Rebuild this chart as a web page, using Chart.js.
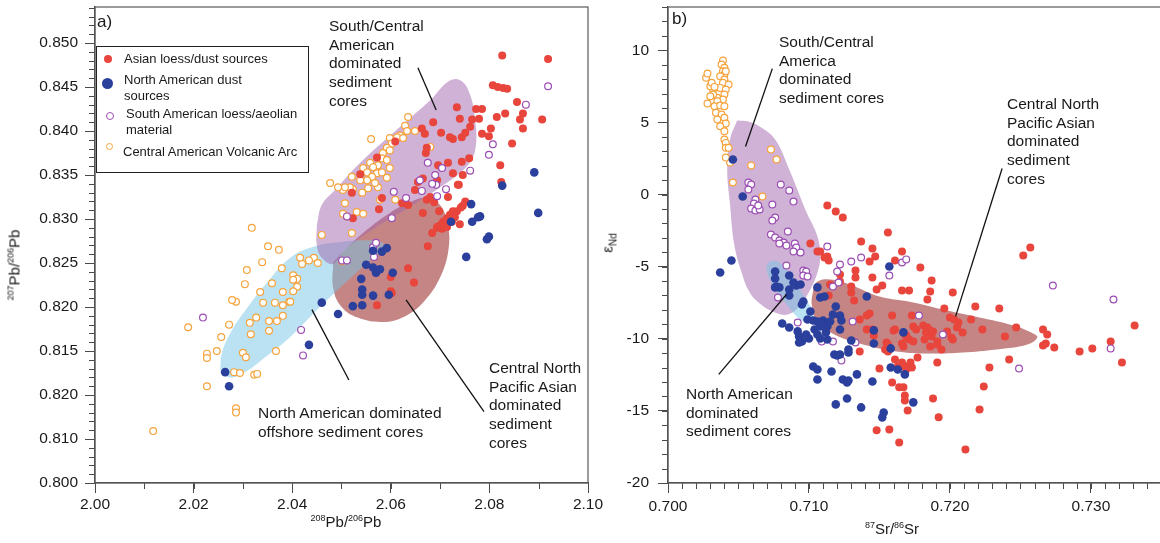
<!DOCTYPE html>
<html>
<head>
<meta charset="utf-8">
<script src="https://cdn.jsdelivr.net/npm/chart.js@4.4.1/dist/chart.umd.min.js"></script>
<style>
  html, body { margin: 0; padding: 0; background: #fff; overflow: hidden; }
  #wrap { position: relative; width: 1160px; height: 543px; overflow: hidden;
          font-family: 'Liberation Sans', Arial, sans-serif; color: #1a1a1a; }
  canvas { position: absolute; top: 0; }
  .note { position: absolute; font-size: 15.5px; line-height: 18.7px; white-space: nowrap; }
  .panel { position: absolute; font-size: 17px; }
  .axtitle { position: absolute; font-size: 15px; white-space: nowrap; transform: translate(-50%, -50%); }
  .axtitle.rot { transform: translate(-50%, -50%) rotate(-90deg); }
  .axtitle sup { font-size: 9px; vertical-align: 6px; line-height: 0; }
  .axtitle sub { font-size: 10px; vertical-align: -4px; line-height: 0; }
  #legend { position: absolute; left: 96px; top: 46px; width: 211px; height: 125px;
            border: 1.5px solid #222; background: #fff; font-size: 13px; }
  .lg { position: absolute; line-height: 16px; white-space: nowrap; }
  .sym { position: absolute; border-radius: 50%; box-sizing: border-box; }
</style>
</head>
<body>
<div id="wrap">
  <canvas id="srChart" width="620" height="543" style="left:600px"></canvas>
  <canvas id="pbChart" width="620" height="543" style="left:0px"></canvas>

  <div class="panel" style="left:97px;top:12px">a)</div>
  <div class="panel" style="left:672px;top:9px">b)</div>

  <div class="axtitle rot" style="left:14px;top:265px"><sup>207</sup>Pb/<sup>206</sup>Pb</div>
  <div class="axtitle" style="left:346px;top:521px"><sup>208</sup>Pb/<sup>206</sup>Pb</div>
  <div class="axtitle rot" style="left:607px;top:243px">ε<sub>Nd</sub></div>
  <div class="axtitle" style="left:892px;top:528px"><sup>87</sup>Sr/<sup>86</sup>Sr</div>

  <div class="note" style="left:329px;top:17px">South/Central<br>American<br>dominated<br>sediment<br>cores</div>
  <div class="note" style="left:258px;top:404px">North American dominated<br>offshore sediment cores</div>
  <div class="note" style="left:489px;top:359px">Central North<br>Pacific Asian<br>dominated<br>sediment<br>cores</div>
  <div class="note" style="left:779px;top:33px">South/Central<br>America<br>dominated<br>sediment cores</div>
  <div class="note" style="left:1007px;top:95px">Central North<br>Pacific Asian<br>dominated<br>sediment<br>cores</div>
  <div class="note" style="left:686px;top:385px">North American<br>dominated<br>sediment cores</div>

  <div id="legend">
    <div class="sym" style="left:7px;top:8px;width:8px;height:8px;background:#e8453c"></div>
    <div class="lg" style="left:27px;top:4px">Asian loess/dust sources</div>
    <div class="sym" style="left:5px;top:31px;width:11px;height:11px;background:#2b3f9c"></div>
    <div class="lg" style="left:27px;top:25px">North American dust<br>sources</div>
    <div class="sym" style="left:9px;top:65px;width:8px;height:8px;border:1.2px solid #9a4db3"></div>
    <div class="lg" style="left:29px;top:59px">South American loess/aeolian<br>material</div>
    <div class="sym" style="left:9px;top:96px;width:7px;height:7px;border:1.2px solid #f6a33c"></div>
    <div class="lg" style="left:26px;top:97px">Central American Volcanic Arc</div>
  </div>
</div>

<script>
// ---- panel a) 208Pb/206Pb vs 207Pb/206Pb ----
const pbAsian = [
  [2.0826,0.8486],[2.0919,0.8482],[2.0807,0.8452],[2.0817,0.8450],[2.0828,0.8449],[2.0836,0.8448],
  [2.0856,0.8433],[2.0907,0.8413],[2.0868,0.8403],[2.0862,0.8413],[2.0868,0.8420],[2.0773,0.8425],
  [2.0785,0.8425],[2.0779,0.8414],[2.0815,0.8416],[2.0832,0.8420],[2.0734,0.8427],[2.0740,0.8414],
  [2.0686,0.8410],[2.0663,0.8403],[2.0669,0.8397],[2.0702,0.8398],[2.0720,0.8393],[2.0726,0.8391],
  [2.0744,0.8393],[2.0751,0.8398],[2.0761,0.8405],[2.0765,0.8413],[2.0785,0.8397],[2.0799,0.8394],
  [2.0803,0.8403],[2.0846,0.8386],[2.0822,0.8361],[2.0824,0.8342],[2.0744,0.8365],[2.0759,0.8369],
  [2.0716,0.8364],[2.0696,0.8361],[2.0673,0.8381],[2.0671,0.8375],[2.0726,0.8352],[2.0746,0.8350],
  [2.0738,0.8339],[2.0694,0.8344],[2.0665,0.8346],[2.0655,0.8342],[2.0609,0.8388],[2.0572,0.8370],
  [2.0538,0.8351],[2.0521,0.8330],[2.0582,0.8324],[2.0576,0.8311],[2.0523,0.8301],[2.0623,0.8318],
  [2.0635,0.8316],[2.0649,0.8333],[2.0673,0.8322],[2.0680,0.8325],[2.0688,0.8319],[2.0716,0.8325],
  [2.0736,0.8339],[2.0751,0.8320],[2.0746,0.8315],[2.0742,0.8313],[2.0734,0.8309],[2.0698,0.8309],
  [2.0665,0.8307],[2.0726,0.8309],[2.0720,0.8305],[2.0714,0.8301],[2.0706,0.8297],[2.0700,0.8293],
  [2.0694,0.8290],[2.0704,0.8289],[2.0714,0.8291],[2.0724,0.8297],[2.0730,0.8302],[2.0740,0.8294],
  [2.0684,0.8284],[2.0694,0.8291],[2.0675,0.8269],[2.0635,0.8244],[2.0600,0.8234],[2.0647,0.8228],
  [2.0600,0.8218],[2.0602,0.8216],[2.0572,0.8202]
];
const pbNorthAmerican = [
  [2.0264,0.8126],[2.0272,0.8110],[2.0434,0.8157],[2.0460,0.8205],[2.0493,0.8192],[2.0523,0.8201],
  [2.0542,0.8202],[2.0542,0.8220],[2.0542,0.8214],[2.0564,0.8213],[2.0596,0.8214],[2.0540,0.8232],
  [2.0550,0.8248],[2.0564,0.8245],[2.0570,0.8239],[2.0578,0.8243],[2.0604,0.8239],[2.0564,0.8264],
  [2.0582,0.8263],[2.0592,0.8267],[2.0753,0.8257],[2.0763,0.8317],[2.0781,0.8303],[2.0777,0.8302],
  [2.0765,0.8297],[2.0722,0.8297],[2.0799,0.8280],[2.0795,0.8277],[2.0826,0.8338],[2.0891,0.8353],
  [2.0899,0.8307]
];
const pbSouthAmerican = [
  [2.0219,0.8188],[2.0418,0.8174],[2.0422,0.8145],[2.0501,0.8253],[2.0511,0.8253],[2.0566,0.8257],
  [2.0606,0.8331],[2.0663,0.8332],[2.0692,0.8339],[2.0712,0.8334],[2.0694,0.8326],[2.0631,0.8324],
  [2.0602,0.8301],[2.0511,0.8303],[2.0564,0.8268],[2.0570,0.8273],[2.0675,0.8364],[2.0704,0.8358],
  [2.0690,0.8350],[2.0659,0.8344],[2.0684,0.8340],[2.0761,0.8355],[2.0807,0.8385],[2.0799,0.8373],
  [2.0874,0.8430],[2.0919,0.8451]
];
const pbCentralAmerican = [
  [2.0189,0.8177],[2.0256,0.8166],[2.0272,0.8180],[2.0286,0.8206],[2.0247,0.8150],[2.0227,0.8147],
  [2.0227,0.8142],[2.0282,0.8126],[2.0294,0.8125],[2.0323,0.8123],[2.0329,0.8124],[2.0300,0.8148],
  [2.0306,0.8143],[2.0316,0.8169],[2.0314,0.8182],[2.0327,0.8188],[2.0341,0.8205],[2.0365,0.8205],
  [2.0381,0.8202],[2.0394,0.8206],[2.0353,0.8184],[2.0369,0.8184],[2.0381,0.8190],[2.0353,0.8173],
  [2.0367,0.8150],[2.0227,0.8110],[2.0286,0.8085],[2.0286,0.8080],[2.0118,0.8059],[2.0460,0.8282],
  [2.0444,0.8256],[2.0452,0.8250],[2.0420,0.8249],[2.0402,0.8236],[2.0410,0.8232],[2.0402,0.8231],
  [2.0410,0.8223],[2.0402,0.8218],[2.0396,0.8206],[2.0501,0.8252],[2.0521,0.8284],[2.0503,0.8333],
  [2.0523,0.8334],[2.0542,0.8330],[2.0507,0.8318],[2.0531,0.8308],[2.0503,0.8306],[2.0544,0.8306],
  [2.0578,0.8322],[2.0609,0.8322],[2.0554,0.8335],[2.0574,0.8336],[2.0560,0.8391],[2.0635,0.8416],
  [2.0629,0.8406],[2.0649,0.8400],[2.0633,0.8400],[2.0619,0.8395],[2.0613,0.8393],[2.0598,0.8392],
  [2.0625,0.8392],[2.0602,0.8386],[2.0592,0.8381],[2.0584,0.8375],[2.0598,0.8378],[2.0582,0.8369],
  [2.0592,0.8367],[2.0574,0.8361],[2.0598,0.8358],[2.0558,0.8364],[2.0564,0.8359],[2.0544,0.8358],
  [2.0552,0.8353],[2.0572,0.8352],[2.0582,0.8353],[2.0562,0.8348],[2.0568,0.8341],[2.0552,0.8344],
  [2.0538,0.8344],[2.0521,0.8348],[2.0517,0.8336],[2.0507,0.8336],[2.0493,0.8336],[2.0477,0.8341],
  [2.0592,0.8347],[2.0680,0.8382],[2.0511,0.8303],[2.0318,0.8290],[2.0351,0.8269],[2.0373,0.8265],
  [2.0339,0.8251],[2.0308,0.8242],[2.0379,0.8244],[2.0359,0.8227],[2.0381,0.8217],[2.0335,0.8217],
  [2.0304,0.8226],[2.0278,0.8208],[2.0416,0.8256],[2.0434,0.8253]
];
// outlines of the shaded fields (data units)
const pbFieldSouthCentral = [
  [2.0450,0.8293],[2.0460,0.8316],[2.0487,0.8333],[2.0538,0.8364],[2.0619,0.8405],[2.0680,0.8435],
  [2.0716,0.8456],[2.0740,0.8458],[2.0759,0.8444],[2.0771,0.8413],[2.0771,0.8378],[2.0751,0.8358],
  [2.0700,0.8336],[2.0639,0.8314],[2.0568,0.8290],[2.0507,0.8265],[2.0483,0.8249],[2.0460,0.8256],
  [2.0450,0.8270]
];
const pbFieldAsian = [
  [2.0483,0.8251],[2.0507,0.8265],[2.0552,0.8288],[2.0598,0.8307],[2.0639,0.8319],[2.0673,0.8324],
  [2.0700,0.8316],[2.0714,0.8297],[2.0718,0.8270],[2.0702,0.8236],[2.0667,0.8206],[2.0627,0.8189],
  [2.0584,0.8183],[2.0533,0.8188],[2.0499,0.8201],[2.0483,0.8222]
];
const pbFieldNorthAmerican = [
  [2.0254,0.8128],[2.0258,0.8149],[2.0278,0.8174],[2.0306,0.8197],[2.0345,0.8225],[2.0396,0.8256],
  [2.0446,0.8269],[2.0497,0.8274],[2.0548,0.8276],[2.0584,0.8273],[2.0578,0.8263],[2.0548,0.8248],
  [2.0507,0.8227],[2.0456,0.8200],[2.0396,0.8166],[2.0345,0.8143],[2.0304,0.8126],[2.0274,0.8120]
];
const pbLeaders = [
  [[2.0655,0.8472],[2.0692,0.8424]],
  [[2.0440,0.8197],[2.0515,0.8117]],
  [[2.0631,0.8208],[2.0789,0.8081]]
];
const pbYTickLabels = ['0.800','0.810','0.820','0.815','0.820','0.825','0.830','0.835','0.840','0.845','0.850'];

// ---- panel b) 87Sr/86Sr vs eNd ----
const srAsian = [
  [0.7113,-0.76],[0.7119,-1.18],[0.7124,-1.59],[0.7156,-2.63],[0.7137,-3.26],[0.7145,-3.74],
  [0.7147,-4.30],[0.7143,-4.64],[0.7101,-3.40],[0.7106,-3.95],[0.7111,-4.37],[0.7114,-4.57],
  [0.7133,-5.27],[0.7133,-5.75],[0.7122,-5.54],[0.7145,-5.75],[0.7166,-3.95],[0.7161,-4.57],
  [0.7179,-5.06],[0.7187,-5.96],[0.7152,-6.31],[0.7166,-6.65],[0.7171,-6.65],[0.7186,-6.72],
  [0.7184,-7.28],[0.7114,-7.00],[0.7130,-6.79],[0.7132,-7.35],[0.7143,-8.25],[0.7159,-8.39],
  [0.7173,-8.39],[0.7257,-3.67],[0.7252,-4.23],[0.7202,-6.79],[0.7196,-7.90],[0.7218,-7.76],
  [0.7235,-7.90],[0.7161,-9.36],[0.7155,-10.26],[0.7156,-10.88],[0.7167,-10.53],[0.7169,-9.84],
  [0.7171,-10.05],[0.7174,-10.19],[0.7176,-9.36],[0.7181,-9.08],[0.7184,-9.22],[0.7185,-9.36],
  [0.7183,-9.56],[0.7187,-9.84],[0.7182,-10.05],[0.7186,-10.53],[0.7191,-10.40],[0.7194,-10.74],
  [0.7198,-9.49],[0.7200,-8.52],[0.7203,-8.66],[0.7206,-8.87],[0.7205,-9.22],[0.7201,-9.91],
  [0.7202,-10.05],[0.7209,-9.56],[0.7215,-8.66],[0.7223,-9.36],[0.7239,-9.84],[0.7247,-9.22],
  [0.7266,-9.36],[0.7269,-9.70],[0.7268,-10.33],[0.7266,-10.46],[0.7274,-10.60],[0.7292,-10.88],
  [0.7301,-10.67],[0.7314,-10.19],[0.7331,-9.08],[0.7322,-11.64],[0.7242,-11.43],[0.7228,-11.99],
  [0.7224,-13.31],[0.7221,-14.90],[0.7211,-17.67],[0.7192,-15.45],[0.7188,-14.14],[0.7177,-11.30],
  [0.7172,-11.64],[0.7168,-11.92],[0.7163,-11.92],[0.7161,-11.43],[0.7159,-13.03],[0.7164,-13.37],
  [0.7167,-13.37],[0.7168,-13.93],[0.7168,-14.28],[0.7170,-14.97],[0.7157,-16.29],[0.7164,-17.19],
  [0.7136,-8.66],[0.7145,-9.36],[0.7160,-9.42],[0.7174,-9.15],[0.7169,-9.77],[0.7188,-9.49],
  [0.7191,-10.19],[0.7166,-10.33],[0.7156,-10.40],[0.7157,-10.74],[0.7136,-10.88],[0.7166,-11.64],
  [0.7169,-12.13],[0.7173,-11.99],[0.7150,-12.06],[0.7191,-11.64],[0.7148,-16.35],[0.7108,-3.95],
  [0.7113,-4.30],[0.7130,-6.38],[0.7148,-6.58],[0.7141,-8.39],[0.7141,-9.36],[0.7146,-9.77],
  [0.7154,-10.74],[0.7122,-6.03],[0.7115,-6.24]
];
const srNorthAmerican = [
  [0.7046,2.43],[0.7053,-0.14],[0.7045,-4.57],[0.7037,-5.41],[0.7076,-5.34],[0.7076,-5.82],
  [0.7077,-6.38],[0.7076,-6.44],[0.7079,-6.44],[0.7086,-5.61],[0.7089,-6.10],[0.7091,-6.31],
  [0.7094,-6.24],[0.7086,-6.58],[0.7086,-7.00],[0.7096,-7.42],[0.7095,-7.62],[0.7101,-8.11],
  [0.7106,-6.44],[0.7108,-7.14],[0.7111,-7.07],[0.7119,-7.76],[0.7122,-8.39],[0.7141,-7.07],
  [0.7157,-4.99],[0.7099,-8.66],[0.7081,-8.94],[0.7086,-9.22],[0.7092,-9.49],[0.7093,-9.84],
  [0.7095,-10.19],[0.7093,-10.26],[0.7103,-8.73],[0.7104,-9.36],[0.7106,-9.70],[0.7098,-9.70],
  [0.7100,-9.98],[0.7106,-8.80],[0.7110,-8.73],[0.7108,-9.15],[0.7113,-9.15],[0.7115,-8.80],
  [0.7112,-9.56],[0.7108,-9.98],[0.7113,-10.05],[0.7117,-8.32],[0.7123,-8.73],[0.7122,-9.36],
  [0.7118,-11.09],[0.7120,-11.16],[0.7122,-11.09],[0.7128,-10.74],[0.7128,-10.95],[0.7130,-10.12],
  [0.7103,-11.92],[0.7106,-12.13],[0.7106,-12.82],[0.7116,-12.27],[0.7119,-14.55],[0.7124,-12.82],
  [0.7128,-12.89],[0.7127,-13.03],[0.7134,-12.47],[0.7127,-14.14],[0.7137,-14.76],[0.7145,-12.96],
  [0.7146,-10.33],[0.7153,-15.11],[0.7152,-15.45],[0.7158,-11.99],[0.7158,-10.67],[0.7163,-12.13],
  [0.7168,-12.47],[0.7174,-14.41],[0.7167,-9.56],[0.7146,-9.42]
];
const srSouthAmerican = [
  [0.7057,0.83],[0.7059,0.69],[0.7057,0.35],[0.7080,0.69],[0.7086,0.28],[0.7089,-0.49],
  [0.7062,-0.35],[0.7061,-0.62],[0.7059,-0.97],[0.7062,-1.11],[0.7065,-1.04],[0.7064,-0.76],
  [0.7074,-0.69],[0.7076,-1.59],[0.7074,-1.80],[0.7085,-2.56],[0.7073,-2.77],[0.7076,-2.98],
  [0.7079,-3.19],[0.7082,-3.33],[0.7084,-3.53],[0.7079,-3.40],[0.7090,-3.40],[0.7091,-3.67],
  [0.7089,-3.95],[0.7094,-4.02],[0.7084,-4.92],[0.7096,-5.27],[0.7098,-5.34],[0.7096,-5.61],
  [0.7099,-5.68],[0.7078,-7.14],[0.7092,-8.87],[0.7109,-10.19],[0.7117,-10.19],[0.7133,-10.26],
  [0.7123,-11.50],[0.7113,-3.60],[0.7130,-4.64],[0.7137,-4.37],[0.7122,-4.85],[0.7120,-5.34],
  [0.7117,-6.38],[0.7121,-6.10],[0.7131,-8.80],[0.7157,-5.61],[0.7166,-4.71],[0.7169,-4.50],
  [0.7178,-8.39],[0.7195,-9.70],[0.7273,-6.31],[0.7316,-7.28],[0.7314,-10.67],[0.7249,-12.06]
];
const srCentralAmerican = [
  [0.7039,9.29],[0.7038,9.01],[0.7040,8.78],[0.7039,8.54],[0.7040,8.32],[0.7041,8.54],
  [0.7037,8.20],[0.7040,7.97],[0.7039,7.74],[0.7043,7.62],[0.7037,7.39],[0.7041,7.28],
  [0.7040,6.93],[0.7035,6.70],[0.7039,6.58],[0.7035,6.47],[0.7032,7.28],[0.7030,7.51],
  [0.7027,8.09],[0.7028,8.39],[0.7031,7.74],[0.7033,7.46],[0.7032,6.93],[0.7030,6.81],
  [0.7028,6.31],[0.7033,6.12],[0.7037,6.17],[0.7040,6.12],[0.7034,5.66],[0.7038,5.54],
  [0.7035,5.20],[0.7040,5.32],[0.7039,4.73],[0.7041,4.92],[0.7037,4.73],[0.7040,4.39],
  [0.7040,3.81],[0.7041,3.58],[0.7041,3.24],[0.7043,3.24],[0.7073,3.12],[0.7077,2.43],
  [0.7059,2.01],[0.7044,2.22],[0.7041,2.56],[0.7046,0.83],[0.7067,-0.14]
];
const srFieldSouthCentral = [
  [0.7049,5.13],[0.7057,5.06],[0.7065,4.71],[0.7076,3.81],[0.7086,1.73],[0.7098,-1.18],
  [0.7106,-2.91],[0.7108,-4.37],[0.7106,-5.41],[0.7101,-6.58],[0.7093,-7.76],[0.7085,-8.32],
  [0.7076,-8.18],[0.7066,-7.62],[0.7058,-6.79],[0.7052,-5.34],[0.7047,-3.47],[0.7044,-0.69],
  [0.7042,1.73],[0.7044,3.81]
];
const srFieldNorthAmerican = [
  [0.7072,-4.64],[0.7078,-4.64],[0.7084,-5.20],[0.7091,-6.17],[0.7098,-7.28],[0.7103,-8.18],
  [0.7102,-8.80],[0.7096,-8.80],[0.7090,-8.32],[0.7083,-7.48],[0.7076,-6.58],[0.7071,-5.61],
  [0.7070,-4.99]
];
const srFieldAsian = [
  [0.7103,-6.58],[0.7106,-6.03],[0.7115,-5.89],[0.7129,-6.24],[0.7150,-7.07],[0.7174,-7.48],
  [0.7198,-8.04],[0.7221,-8.52],[0.7245,-9.08],[0.7259,-9.63],[0.7262,-9.91],[0.7255,-10.40],
  [0.7233,-10.74],[0.7209,-10.95],[0.7186,-11.02],[0.7162,-10.88],[0.7136,-10.33],[0.7118,-9.70],
  [0.7106,-8.80],[0.7102,-7.62]
];
const srLeaders = [
  [[0.7074,8.73],[0.7055,3.33]],
  [[0.7237,1.80],[0.7204,-8.45]],
  [[0.7084,-6.93],[0.7036,-12.47]]
];

const colAsian = '#e8453c';
const colNorthAm = '#2b3f9c';
const colSouthAm = '#9a4db3';
const colCentralAm = '#f6a33c';
const axisColor = '#4a4a4a';
const fieldPurple = 'rgba(161,101,173,0.5)';
const fieldBrown = 'rgba(158,52,52,0.6)';
const fieldBlue = 'rgba(119,197,229,0.5)';

Chart.defaults.font.family = "'Liberation Sans', Arial, sans-serif";
Chart.defaults.color = '#1a1a1a';

const pts = arr => arr.map(p => ({ x: p[0], y: p[1] }));
const closed = arr => pts(arr.concat([arr[0]]));

function field (arr, color, order) {
  return {
    type: 'line', data: closed(arr), order,
    backgroundColor: color, borderColor: 'rgba(0,0,0,0)', borderWidth: 0,
    fill: 'shape', tension: 0.4, pointRadius: 0
  };
}
function leader (seg) {
  return {
    type: 'line', data: pts(seg), order: 0,
    borderColor: '#111', borderWidth: 1.3, pointRadius: 0, fill: false, tension: 0
  };
}
function filled (arr, color, r, order) {
  return { data: pts(arr), order, pointRadius: r, backgroundColor: color, borderColor: color, borderWidth: 0 };
}
function open (arr, color, order) {
  return { data: pts(arr), order, pointRadius: 3.4, backgroundColor: '#fff', borderColor: color, borderWidth: 1.2 };
}

// minor ticks along the axes, placed through the scales
const minorTickPlugin = {
  id: 'minorTicks',
  afterDraw (chart, args, opts) {
    const { ctx, chartArea } = chart;
    const xs = chart.scales.x;
    const ys = chart.scales.y;
    ctx.save();
    ctx.strokeStyle = axisColor;
    ctx.lineWidth = 1;
    ctx.beginPath();
    for (let n = Math.ceil(xs.min / opts.x - 1e-6); n * opts.x <= xs.max + 1e-9; n++) {
      const px = Math.round(xs.getPixelForValue(n * opts.x)) + 0.5;
      ctx.moveTo(px, chartArea.bottom);
      ctx.lineTo(px, chartArea.bottom + opts.len);
    }
    for (let n = Math.ceil(ys.min / opts.y - 1e-6); n * opts.y <= ys.max + 1e-9; n++) {
      const py = Math.round(ys.getPixelForValue(n * opts.y)) + 0.5;
      ctx.moveTo(chartArea.left, py);
      ctx.lineTo(chartArea.left - opts.len, py);
    }
    ctx.stroke();
    ctx.restore();
  }
};

// box round the plot area
const framePlugin = {
  id: 'frame',
  afterDraw (chart) {
    const { ctx, chartArea } = chart;
    ctx.save();
    ctx.strokeStyle = '#5a5a5a';
    ctx.lineWidth = 1.2;
    ctx.strokeRect(chartArea.left, chartArea.top, chartArea.right - chartArea.left, chartArea.bottom - chartArea.top);
    ctx.restore();
  }
};

function axis (extra) {
  return Object.assign({
    type: 'linear',
    border: { display: true, color: axisColor, width: 1.3 },
    grid: { display: true, drawOnChartArea: false, drawTicks: true, tickLength: 10, tickColor: axisColor, tickWidth: 1 }
  }, extra);
}

const baseOptions = {
  responsive: false,
  animation: false,
  events: [],
  plugins: { legend: { display: false }, tooltip: { enabled: false } }
};

new Chart(document.getElementById('pbChart'), {
  type: 'scatter',
  data: {
    datasets: [
      field(pbFieldAsian, fieldBrown, 12),
      field(pbFieldNorthAmerican, fieldBlue, 11),
      field(pbFieldSouthCentral, fieldPurple, 10),
      open(pbCentralAmerican, colCentralAm, 5),
      filled(pbAsian, colAsian, 4, 4),
      open(pbSouthAmerican, colSouthAm, 3),
      filled(pbNorthAmerican, colNorthAm, 4.3, 2),
      ...pbLeaders.map(leader)
    ]
  },
  options: Object.assign({}, baseOptions, {
    layout: { padding: { top: 7, right: 32, left: 0, bottom: 0 } },
    plugins: Object.assign({}, baseOptions.plugins, { minorTicks: { x: 0.01, y: 0.001, len: 6 } }),
    scales: {
      x: axis({
        min: 2.0, max: 2.1,
        afterFit: s => { s.height = 60; s.paddingLeft = 0; s.paddingRight = 0 },
        ticks: { stepSize: 0.02, includeBounds: false, padding: 2, font: { size: 15.5 }, color: '#1a1a1a',
          callback: v => v.toFixed(2) }
      }),
      y: axis({
        min: 0.8, max: 0.8541,
        afterFit: s => { s.width = 95; s.paddingTop = 0; s.paddingBottom = 0 },
        ticks: { stepSize: 0.005, includeBounds: false, padding: 7, font: { size: 15.5 }, color: '#1a1a1a',
          callback: v => pbYTickLabels[Math.round((v - 0.8) / 0.005)] }
      })
    }
  }),
  plugins: [minorTickPlugin, framePlugin]
});

new Chart(document.getElementById('srChart'), {
  type: 'scatter',
  data: {
    datasets: [
      field(srFieldSouthCentral, fieldPurple, 12),
      field(srFieldAsian, fieldBrown, 11),
      field(srFieldNorthAmerican, fieldBlue, 10),
      open(srCentralAmerican, colCentralAm, 5),
      filled(srAsian, colAsian, 4, 4),
      open(srSouthAmerican, colSouthAm, 3),
      filled(srNorthAmerican, colNorthAm, 4.3, 2),
      ...srLeaders.map(leader)
    ]
  },
  options: Object.assign({}, baseOptions, {
    layout: { padding: { top: 7, right: 30.4, left: 0, bottom: 0 } },
    plugins: Object.assign({}, baseOptions.plugins, { minorTicks: { x: 0.001, y: 1, len: 6 } }),
    scales: {
      x: axis({
        min: 0.700, max: 0.737,
        afterFit: s => { s.height = 60; s.paddingLeft = 0; s.paddingRight = 0 },
        ticks: { stepSize: 0.01, includeBounds: false, padding: 4, font: { size: 15.5 }, color: '#1a1a1a',
          callback: v => v.toFixed(3) }
      }),
      y: axis({
        min: -20, max: 13,
        afterFit: s => { s.width = 68; s.paddingTop = 0; s.paddingBottom = 0 },
        ticks: { stepSize: 5, includeBounds: false, padding: 9, font: { size: 15.5 }, color: '#1a1a1a',
          callback: v => String(v) }
      })
    }
  }),
  plugins: [minorTickPlugin, framePlugin]
});
</script>
</body>
</html>
